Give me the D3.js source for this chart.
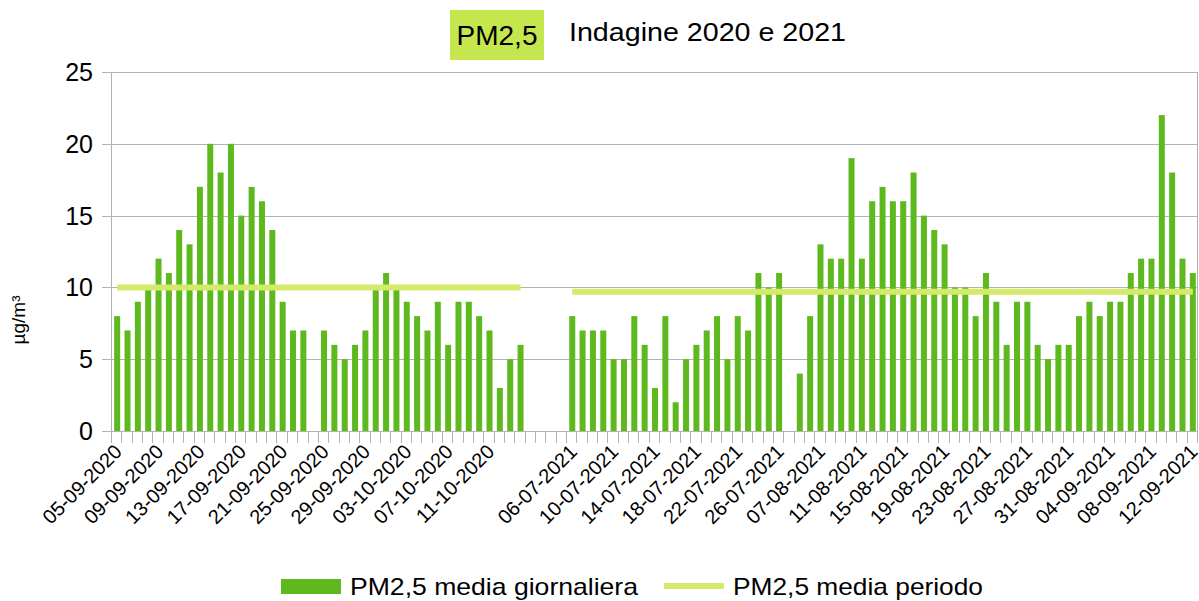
<!DOCTYPE html>
<html>
<head>
<meta charset="utf-8">
<script src="https://cdn.jsdelivr.net/npm/d3@7"></script>
<style>
  body { margin: 0; background: #fff; }
  text { font-family: "Liberation Sans", Arial, sans-serif; fill: #000; }
</style>
</head>
<body>
<div class="chart"></div>
<script>
var width = 1199, height = 601;

// category labels (blank ones are the gaps between the two surveys)
var dates2020 = ["05-09-2020","06-09-2020","07-09-2020","08-09-2020","09-09-2020","10-09-2020","11-09-2020","12-09-2020",
  "13-09-2020","14-09-2020","15-09-2020","16-09-2020","17-09-2020","18-09-2020","19-09-2020","20-09-2020",
  "21-09-2020","22-09-2020","23-09-2020","24-09-2020","25-09-2020","26-09-2020","27-09-2020","28-09-2020",
  "29-09-2020","30-09-2020","01-10-2020","02-10-2020","03-10-2020","04-10-2020","05-10-2020","06-10-2020",
  "07-10-2020","08-10-2020","09-10-2020","10-10-2020","11-10-2020","12-10-2020","13-10-2020","14-10-2020"];
var gapA = ["", "", "", ""];
var dates2021a = ["06-07-2021","07-07-2021","08-07-2021","09-07-2021","10-07-2021","11-07-2021","12-07-2021",
  "13-07-2021","14-07-2021","15-07-2021","16-07-2021","17-07-2021","18-07-2021","19-07-2021","20-07-2021",
  "21-07-2021","22-07-2021","23-07-2021","24-07-2021","25-07-2021","26-07-2021"];
var gapB = [""];
var dates2021b = ["05-08-2021","06-08-2021","07-08-2021","08-08-2021","09-08-2021","10-08-2021","11-08-2021",
  "12-08-2021","13-08-2021","14-08-2021","15-08-2021","16-08-2021","17-08-2021","18-08-2021","19-08-2021",
  "20-08-2021","21-08-2021","22-08-2021","23-08-2021","24-08-2021","25-08-2021","26-08-2021","27-08-2021",
  "28-08-2021","29-08-2021","30-08-2021","31-08-2021","01-09-2021","02-09-2021","03-09-2021","04-09-2021",
  "05-09-2021","06-09-2021","07-09-2021","08-09-2021","09-09-2021","10-09-2021","11-09-2021","12-09-2021"];

// daily values, null = no measurement
var daily2020 = [8,7,9,10,12,11,14,13,17,20,18,20,15,17,16,14,9,7,7,null,
  7,6,5,6,7,10,11,10,9,8,7,9,6,9,9,8,7,3,5,6];
var dailyGapA = [null,null,null,null];
var daily2021a = [8,7,7,7,5,5,8,6,3,8,2,5,6,7,8,5,8,7,11,10,11];
var dailyGapB = [null];
var daily2021b = [4,8,13,12,12,19,12,16,17,16,16,18,15,14,13,10,10,8,11,9,6,9,9,6,5,6,6,
  8,9,8,9,9,11,12,12,22,18,12,11];

// period means
var periodMeans = [
  { from: "05-09-2020", to: "14-10-2020", value: 10.0 },
  { from: "06-07-2021", to: "12-09-2021", value: 9.7 }
];

var yTicks = [0, 5, 10, 15, 20, 25];

var labels = dates2020.concat(gapA, dates2021a, gapB, dates2021b);
var values = daily2020.concat(dailyGapA, daily2021a, dailyGapB, daily2021b);
var rows = labels.map(function (l, i) { return { i: i, label: l, value: values[i] }; });

var plotLeft = 112, plotRight = 1198, plotTop = 72, plotBottom = 431;
var grey = "#b3b3b3";
var barGreen = "#5eb91e", meanGreen = "#d4ea6b";

var svg = d3.select(".chart").append("svg")
  .attr("width", width)
  .attr("height", height);

var x = d3.scaleBand()
  .domain(rows.map(function (d) { return d.i; }))
  .range([plotLeft, plotRight])
  .paddingInner(0.42)
  .paddingOuter(0.21);

var xEdge = d3.scaleLinear().domain([0, rows.length]).range([plotLeft, plotRight]);

var y = d3.scaleLinear().domain([0, 25]).range([plotBottom, plotTop]);

// grid
svg.append("g").selectAll("line")
  .data(yTicks)
  .enter().append("line")
  .attr("x1", plotLeft - 10).attr("x2", plotRight)
  .attr("y1", function (d) { return Math.round(y(d)) + 0.5; })
  .attr("y2", function (d) { return Math.round(y(d)) + 0.5; })
  .attr("stroke", grey).attr("stroke-width", 1);

svg.append("line")
  .attr("x1", plotLeft - 0.5).attr("x2", plotLeft - 0.5)
  .attr("y1", plotTop).attr("y2", plotBottom + 12)
  .attr("stroke", grey);
svg.append("line")
  .attr("x1", plotRight - 0.5).attr("x2", plotRight - 0.5)
  .attr("y1", plotTop).attr("y2", plotBottom + 12)
  .attr("stroke", grey);

// category boundary ticks
svg.append("g").selectAll("line")
  .data(d3.range(rows.length + 1))
  .enter().append("line")
  .attr("x1", function (d) { return Math.round(xEdge(d)) - 0.5; })
  .attr("x2", function (d) { return Math.round(xEdge(d)) - 0.5; })
  .attr("y1", plotBottom).attr("y2", plotBottom + 12)
  .attr("stroke", grey);

// y labels
svg.append("g").selectAll("text")
  .data(yTicks)
  .enter().append("text")
  .attr("x", 93)
  .attr("y", function (d) { return y(d) + 9; })
  .attr("text-anchor", "end")
  .style("font-size", "25px")
  .text(function (d) { return d; });

svg.append("text")
  .attr("transform", "translate(25,320) rotate(-90)")
  .attr("text-anchor", "middle")
  .style("font-size", "19px")
  .text("µg/m³");

// bars
svg.append("g").selectAll("rect")
  .data(rows.filter(function (d) { return d.value != null; }))
  .enter().append("rect")
  .attr("x", function (d) { return x(d.i); })
  .attr("width", x.bandwidth())
  .attr("y", function (d) { return y(d.value); })
  .attr("height", function (d) { return plotBottom - y(d.value); })
  .attr("fill", barGreen);

// mean lines
var line = d3.line()
  .x(function (d) { return d.x; })
  .y(function (d) { return d.y; });

svg.append("g").selectAll("path")
  .data(periodMeans)
  .enter().append("path")
  .attr("d", function (m) {
    var a = labels.indexOf(m.from), b = labels.indexOf(m.to);
    return line([
      { x: x(a) + x.bandwidth() / 2, y: y(m.value) },
      { x: x(b) + x.bandwidth() / 2, y: y(m.value) }
    ]);
  })
  .attr("stroke", meanGreen)
  .attr("stroke-width", 6)
  .attr("fill", "none");

// x labels every 4th category
svg.append("g").selectAll("text")
  .data(rows.filter(function (d) { return d.i % 4 === 0 && d.label !== ""; }))
  .enter().append("text")
  .attr("transform", function (d) {
    return "translate(" + (x(d.i) + x.bandwidth() / 2 + 6) + "," + (plotBottom + 22) + ") rotate(-45)";
  })
  .attr("text-anchor", "end")
  .style("font-size", "20px")
  .text(function (d) { return d.label; });

// title
svg.append("rect")
  .attr("x", 450).attr("y", 10).attr("width", 94).attr("height", 50)
  .attr("fill", "#c5e64c");
svg.append("text")
  .attr("x", 497).attr("y", 45)
  .attr("text-anchor", "middle")
  .style("font-size", "28px")
  .text("PM2,5");
svg.append("text")
  .attr("x", 569).attr("y", 41)
  .style("font-size", "25px")
  .attr("textLength", 277)
  .attr("lengthAdjust", "spacingAndGlyphs")
  .text("Indagine 2020 e 2021");

// legend
var legend = svg.append("g");
legend.append("rect")
  .attr("x", 281).attr("y", 579).attr("width", 60).attr("height", 15)
  .attr("fill", barGreen);
legend.append("text")
  .attr("x", 350).attr("y", 595)
  .style("font-size", "24px")
  .attr("textLength", 288)
  .attr("lengthAdjust", "spacingAndGlyphs")
  .text("PM2,5 media giornaliera");
legend.append("line")
  .attr("x1", 664).attr("x2", 724)
  .attr("y1", 586).attr("y2", 586)
  .attr("stroke", meanGreen).attr("stroke-width", 6);
legend.append("text")
  .attr("x", 733).attr("y", 595)
  .style("font-size", "24px")
  .attr("textLength", 250)
  .attr("lengthAdjust", "spacingAndGlyphs")
  .text("PM2,5 media periodo");
</script>
</body>
</html>
